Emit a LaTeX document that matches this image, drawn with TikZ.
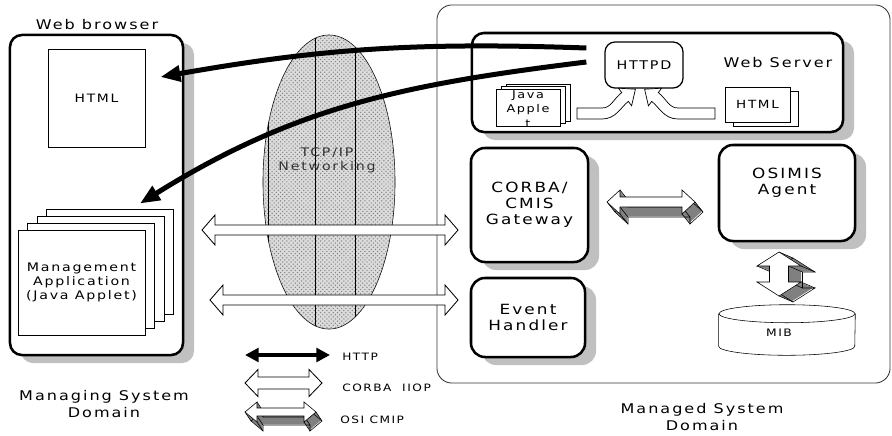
\documentclass[tikz,border=0pt]{standalone}
\usepackage{fontspec}
\setmainfont{DejaVu Sans}[FakeStretch=1.2, LetterSpace=15]
\usetikzlibrary{arrows.meta,positioning,calc,shapes.geometric,shadows,patterns}

\definecolor{shadowgray}{RGB}{192,192,192}
\definecolor{sidegray}{RGB}{128,128,128}

% double block arrow round the origin: half length, shaft half width, head half width, head length
\newcommand\blockarrow[4]{(-#1,0) -- (-#1+#4,-#3) -- (-#1+#4,-#2) -- (#1-#4,-#2) -- (#1-#4,-#3) -- (#1,0)
  -- (#1-#4,#3) -- (#1-#4,#2) -- (-#1+#4,#2) -- (-#1+#4,#3) -- cycle}

% the same arrow with a grey body pushed back by (#5,#6)
\newcommand\cmiparrow[6]{%
  \foreach \t in {0,0.1,...,1}
    \fill[sidegray, shift={({\t*(#5)},{\t*(#6)})}] \blockarrow{#1}{#2}{#3}{#4};
  \draw[thin, shift={(#5,#6)}] \blockarrow{#1}{#2}{#3}{#4};
  \foreach \vx/\vy in {-#1/0, -#1+#4/-#3, -#1+#4/-#2, #1-#4/-#2, #1-#4/-#3, #1/0, #1-#4/#3, #1-#4/#2, -#1+#4/#2, -#1+#4/#3}
    \draw[thin] (\vx,\vy) -- ++(#5,#6);
  \draw[thin, fill=white] \blockarrow{#1}{#2}{#3}{#4};}

% bent hollow arrow inside the web server, tail at x=#1
\newcommand\bentarrow[1]{(#1,119) -- (#1,108) -- (602,108) .. controls (611,108) and (613,99.5) .. (621.7,92.6)
  -- (618.4,88.2) -- (635.4,89.2) -- (631.6,105.8) -- (628.3,101.4)
  .. controls (621,107) and (616,119) .. (602,119) -- cycle}

\begin{document}
\begin{tikzpicture}[x=0.025cm, y=-0.025cm, font=\fontsize{10}{11.5}\selectfont,
  panel/.style={draw=black, line width=1.8pt, rounded corners=3.5mm, fill=white, inner sep=0pt, align=center,
    general shadow={fill=shadowgray, draw=none, shadow xshift=2.75mm, shadow yshift=-2mm}},
  sheet/.style={draw=black, line width=0.6pt, fill=white, inner sep=0pt, align=center},
  caption/.style={align=center, inner sep=0pt, font=\fontsize{9.5}{11.5}\selectfont},
  small/.style={font=\fontsize{8}{9}\selectfont},
  legendtxt/.style={anchor=west, inner sep=0pt, font=\fontsize{7.2}{8}\selectfont},
  net/.style={ellipse, draw=black, thin, fill=gray!28, postaction={pattern=crosshatch dots, pattern color=black!50},
    minimum width=33mm, minimum height=73.5mm, inner sep=0pt},
  http/.style={line width=1.25mm, -{Triangle[length=5mm, width=3.9mm]}},
  httpkey/.style={line width=1mm, {Triangle[length=3.4mm, width=3.4mm]}-{Triangle[length=3.4mm, width=3.4mm]}},
  iiop/.style={draw=black, line width=0.6pt, fill=white},
  bent/.style={draw=black, line width=0.5pt, fill=white}]
  \useasboundingbox (0,0) rectangle (892,435);

  % managed system domain
  \node[draw=black!80, line width=0.6pt, rounded corners=3.75mm, minimum width=113.25mm, minimum height=94.5mm] (managed) at (663.5,194) {};
  \node[caption] (managedlbl) at (702,417) {Managed System\\Domain};

  % web browser side
  \node[panel, rounded corners=3mm, minimum width=43.25mm, minimum height=80mm] (browser) at (96.5,195) {};
  \node[caption] (browserlbl) at (97,25) {Web browser};
  \node[sheet, minimum width=24.25mm, minimum height=24.5mm, font=\fontsize{8.2}{9}\selectfont] (html) at (96.5,98) {HTML};
  \node[sheet, minimum width=31.75mm, minimum height=26.25mm,
    general shadow={draw=black, fill=white, line width=0.6pt, shadow xshift=7.1mm, shadow yshift=5.25mm},
    general shadow={draw=black, fill=white, line width=0.6pt, shadow xshift=4.75mm, shadow yshift=3.5mm},
    general shadow={draw=black, fill=white, line width=0.6pt, shadow xshift=2.4mm, shadow yshift=1.75mm},
    font=\fontsize{8.4}{9.8}\selectfont] (app) at (81.5,282.5) {Management\\Application\\(Java Applet)};
  \node[caption] (managinglbl) at (104,404) {Managing System\\Domain};

  % TCP/IP cloud
  \node[net] (net) at (329,182) {};
  \begin{scope}
    \clip (net.center) ellipse [x radius=16.5mm, y radius=36.75mm];
    \foreach \lx in {268,315,355}
      \draw[thin] (\lx,0) -- (\lx,400);
  \end{scope}
  \node[caption, text=black!80, font=\fontsize{8.4}{10}\selectfont] (nettxt) at (327,160) {TCP/IP\\Networking};

  % web server
  \node[panel, rounded corners=3mm, minimum width=92.75mm, minimum height=24.75mm] (server) at (657.5,82.5) {};
  \node[draw=black, line width=0.9pt, rounded corners=2.5mm, minimum width=19.5mm, minimum height=11.5mm, font=\fontsize{8.5}{9}\selectfont] (httpd) at (644,65) {HTTPD};
  \node[caption] (serverlbl) at (778,63) {Web Server};
  \node[sheet, minimum width=16mm, minimum height=9.25mm,
    general shadow={draw=black, fill=white, line width=0.6pt, shadow xshift=2.5mm, shadow yshift=1.2mm},
    general shadow={draw=black, fill=white, line width=0.6pt, shadow xshift=1.25mm, shadow yshift=0.6mm}] (java) at (528,107.5) {};
  \node[align=center, inner sep=0pt, font=\fontsize{7.6}{10.3}\selectfont] (javatxt) at (528,109) {Java\\Apple\\t};
  \node[sheet, minimum width=16.25mm, minimum height=8.75mm, small,
    general shadow={draw=black, fill=white, line width=0.6pt, shadow xshift=2mm, shadow yshift=-1.1mm}] (srvhtml) at (757.5,104.5) {HTML};
  \draw[bent] \bentarrow{577};
  \begin{scope}[shift={(1280,0)}, xscale=-1]
    \draw[bent] \bentarrow{565};
  \end{scope}

  % managed side boxes
  \node[panel, minimum width=29.25mm, minimum height=28.5mm] (gateway) at (529.5,205) {CORBA/\\CMIS\\Gateway};
  \node[panel, minimum width=34mm, minimum height=24mm] (osimis) at (787,193) {OSIMIS\\Agent\\[2mm]};
  \node[panel, minimum width=28.5mm, minimum height=19.75mm] (event) at (528,317.5) {Event\\Handler};

  % MIB store
  \node[minimum width=34mm, minimum height=8mm, inner sep=0pt] (mib) at (787,330) {};
  \draw[thin] (mib.north west) -- (mib.south west) arc[start angle=180, end angle=360, x radius=17mm, y radius=2.25mm] -- (mib.north east);
  \draw[thin] (mib.north) ellipse [x radius=17mm, y radius=2.25mm];
  \node[inner sep=0pt, font=\fontsize{7.3}{8}\selectfont] (mibtxt) at (779,333) {MIB};

  % CMIP links
  \begin{scope}[shift={(651,202)}]
    \cmiparrow{44}{5}{12}{13}{8}{10}
  \end{scope}
  \begin{scope}[shift={(779,274)}, rotate=90]
    \cmiparrow{22}{9.5}{22}{14}{-6}{14}
  \end{scope}

  % IIOP links
  \begin{scope}[shift={(330,230)}]
    \draw[iiop] \blockarrow{128}{5}{15}{13};
  \end{scope}
  \begin{scope}[shift={(334,300)}]
    \draw[iiop] \blockarrow{124}{5}{15}{13};
  \end{scope}

  % HTTP downloads
  \draw[http] ([xshift=-4.5mm, yshift=4.25mm]httpd.west) to[out=178, in=10] ([xshift=3.75mm, yshift=5.25mm]html.east);
  \draw[http] ([xshift=-4.5mm, yshift=0.75mm]httpd.west) to[out=187, in=32] ([xshift=14.6mm, yshift=6.5mm]app.north);

  % key
  \coordinate (httpA) at (245,355);
  \coordinate (httpB) at (330,355);
  \draw[httpkey] (httpA) -- (httpB);
  \node[legendtxt] (httptxt) at (342,357) {HTTP};
  \begin{scope}[shift={(283.5,383)}]
    \draw[iiop] \blockarrow{38.5}{6}{13.5}{13};
  \end{scope}
  \node[legendtxt] (iioptxt) at (342,388) {CORBA~~IIOP};
  \begin{scope}[shift={(280.5,412)}]
    \cmiparrow{35.5}{4}{10}{12}{6}{9}
  \end{scope}
  \node[legendtxt] (cmiptxt) at (340,420) {OSI CMIP};
\end{tikzpicture}
\end{document}
